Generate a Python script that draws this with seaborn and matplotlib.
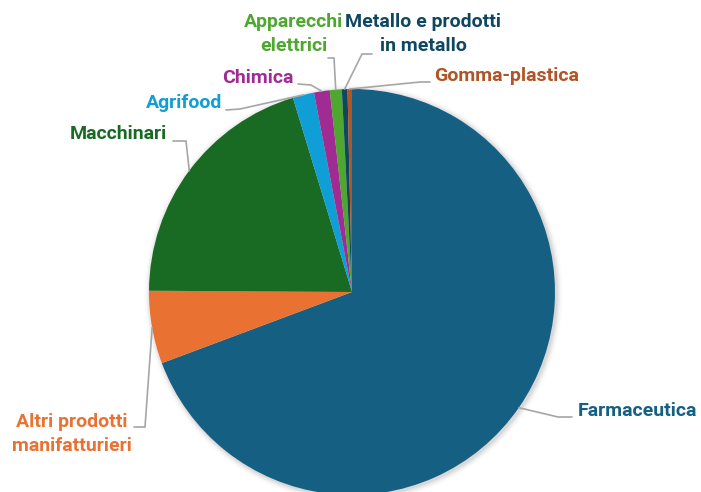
import numpy as np
import matplotlib
matplotlib.use("Agg")
import matplotlib.pyplot as plt
import seaborn as sns
from matplotlib.patches import Circle

# Export share by sector (%)
sectors = ["Farmaceutica", "Altri prodotti\nmanifatturieri", "Macchinari", "Agrifood",
           "Chimica", "Apparecchi\nelettrici", "Metallo e prodotti\nin metallo", "Gomma-plastica"]
shares = [69.3, 5.8, 20.2, 1.7, 1.25, 0.95, 0.45, 0.35]
colors = ["#156082", "#E97132", "#196B24", "#0F9ED5", "#A02B93", "#4EA72E", "#0F4761", "#AF5526"]

W, H = 701, 492
sns.set_theme(style="white")
plt.rcParams["font.family"] = ["Roboto", "DejaVu Sans"]
palette = sns.color_palette(colors)

fig = plt.figure(figsize=(W / 100, H / 100), dpi=100)
ax = fig.add_axes([0, 0, 1, 1])

cx, cy, r = 352, H - 292, 203

# soft shadow around the pie
for i, a in enumerate([0.05, 0.04, 0.03, 0.02, 0.012]):
    ax.add_patch(Circle((cx + 1.5, cy - 1.5), r + 1 + i * 1.3, color="black",
                        alpha=a, lw=0, zorder=0))

wedges, _ = ax.pie(shares, colors=palette, startangle=90, counterclock=False,
                   center=(cx, cy), radius=r, frame=True,
                   wedgeprops=dict(linewidth=0, antialiased=True))
ax.set_xlim(0, W)
ax.set_ylim(0, H)
ax.set_aspect("equal")
ax.axis("off")

# label placement (pixel coords from top-left): text center, then leader elbows
label_pos = [(637, 411), (72, 434), (118, 134), (184, 103), (258, 78),
             (294, 34), (423, 34), (507, 76)]
leader_pts = [
    [(558, 417), (572, 417)],
    [(145, 427), (134, 427)],
    [(186, 141), (173, 141)],
    [(240, 109), (226, 110)],
    [(311, 85), (298, 84)],
    [(334, 58), (328, 58)],
    [(362, 54), (372, 54)],
    [(420, 82), (430, 82)],
]

for w, lab, col, (tx, ty), pts in zip(wedges, sectors, colors, label_pos, leader_pts):
    mid = np.deg2rad((w.theta1 + w.theta2) / 2)
    ax_pt = (cx + r * np.cos(mid), cy + r * np.sin(mid))
    xs = [ax_pt[0]] + [p[0] for p in pts]
    ys = [ax_pt[1]] + [H - p[1] for p in pts]
    ax.plot(xs, ys, color="#A6A6A6", lw=1.2, solid_joinstyle="miter", zorder=3)
    ax.text(tx, H - ty, lab, color=col, fontsize=14, fontweight="bold",
            ha="center", va="center", linespacing=1.4, zorder=4)

fig.savefig("out.png", dpi=100)
